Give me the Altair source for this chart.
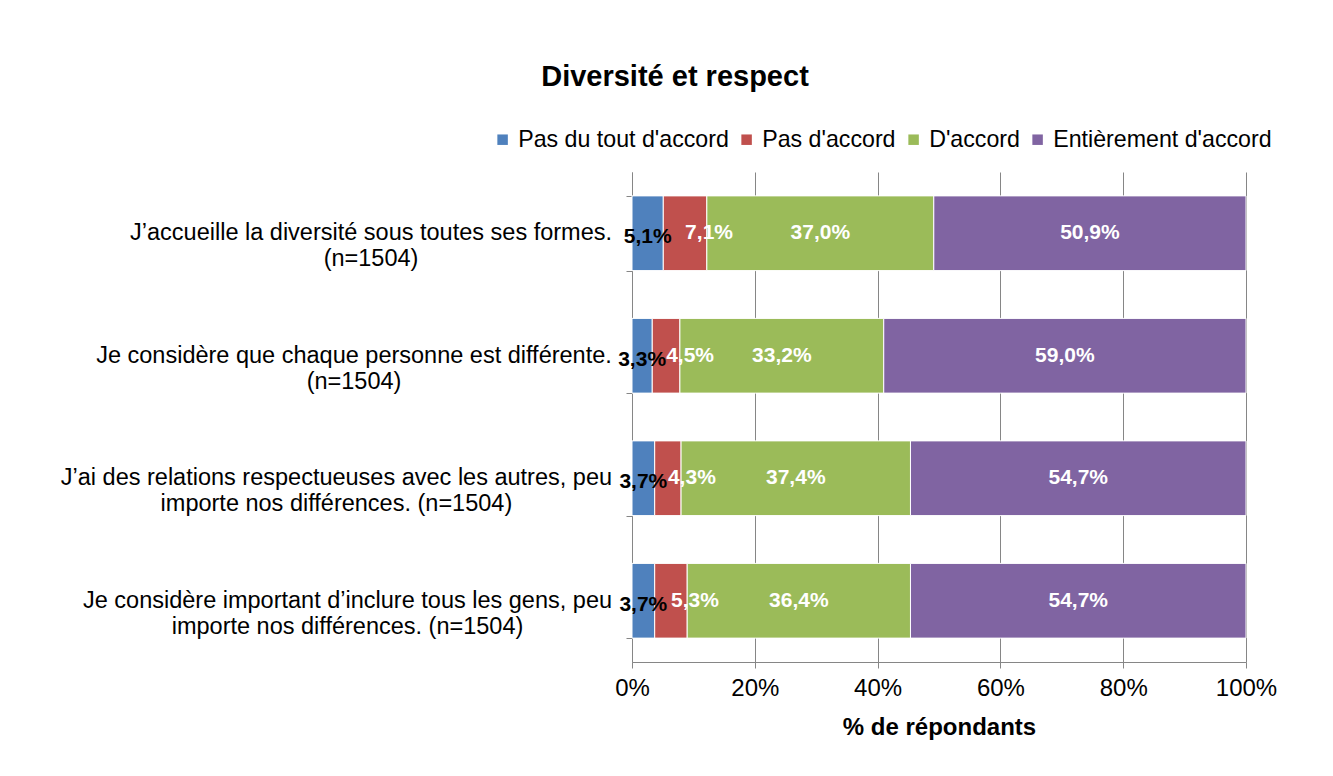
import altair as alt
import pandas as pd

questions_line1 = [
    "J’accueille la diversité sous toutes ses formes.",
    "Je considère que chaque personne est différente.",
    "J’ai des relations respectueuses avec les autres, peu",
    "Je considère important d’inclure tous les gens, peu",
]
questions_line2 = [
    "(n=1504)",
    "(n=1504)",
    "importe nos différences. (n=1504)",
    "importe nos différences. (n=1504)",
]
categories = ["Pas du tout d'accord", "Pas d'accord", "D'accord", "Entièrement d'accord"]
pas_du_tout = [5.1, 3.3, 3.7, 3.7]
pas_d_accord = [7.1, 4.5, 4.3, 5.3]
d_accord = [37.0, 33.2, 37.4, 36.4]
entierement = [50.9, 59.0, 54.7, 54.7]
colors = ["#4F81BD", "#C0504D", "#9BBB59", "#8064A2"]

FONT = "Liberation Sans"
GRAY = "#868686"
LABEL_SIZE = 23.5
LABEL_GAP = 20  # distance between the end of the first label line and the axis

# approximate Arial / Liberation Sans advance widths (per 1000 em), used only to
# centre each two-line category label on its first line, which ends flush
_W = {c: 556 for c in "abdeghnopqu0123456789éèàêô"}
_W.update({c: 500 for c in "cksvxyzJ"})
_W.update({"f": 278, "i": 222, "j": 222, "l": 222, "m": 833, "r": 333, "t": 278,
           "w": 722, " ": 278, ".": 278, ",": 278, "(": 333, ")": 333, "=": 584,
           "’": 222, "'": 191})


def _width_px(s):
    return sum(_W.get(ch, 600) for ch in s) * LABEL_SIZE / 1000


questions = [l1 + "\n" + l2 for l1, l2 in zip(questions_line1, questions_line2)]

series = [pas_du_tout, pas_d_accord, d_accord, entierement]
rows = []
for qi, q in enumerate(questions):
    for ci, cat in enumerate(categories):
        v = series[ci][qi]
        rows.append({
            "question": q,
            "categorie": cat,
            "order": ci,
            "value": v,
            "label": f"{v:.1f}".replace(".", ",") + "%",
        })
df = pd.DataFrame(rows)
qdf = pd.DataFrame({"question": questions, "qi": list(range(len(questions)))})

y_enc = alt.Y(
    "question:N",
    sort=questions,
    title=None,
    scale=alt.Scale(paddingInner=0.39, paddingOuter=0.195),
    axis=alt.Axis(
        labels=False,
        tickSize=6,
        tickBand="extent",
        domainColor=GRAY,
        tickColor=GRAY,
        grid=False,
    ),
)

x_axis = alt.Axis(
    format=".0%",
    values=[0, 0.2, 0.4, 0.6, 0.8, 1.0],
    grid=True,
    gridColor=GRAY,
    domainColor=GRAY,
    tickColor=GRAY,
    tickSize=6,
    labelFontSize=24,
    labelPadding=8,
    labelFlush=False,
    labelColor="black",
    labelFont=FONT,
    titleFontSize=24,
    titleFontWeight="bold",
    titleColor="black",
    titleFont=FONT,
    titlePadding=15,
)
x_scale = alt.Scale(domain=[0, 1])
X_TITLE = "% de répondants"

base = alt.Chart(df).transform_stack(
    stack="value",
    groupby=["question"],
    as_=["v0", "v1"],
    offset="normalize",
    sort=[alt.SortField("order")],
).transform_calculate(mid="(datum.v0 + datum.v1) / 2")

bars = base.mark_bar(stroke="white", strokeWidth=1).encode(
    y=y_enc,
    x=alt.X("v0:Q", scale=x_scale, axis=x_axis, title=X_TITLE),
    x2="v1:Q",
    color=alt.Color(
        "categorie:N",
        scale=alt.Scale(domain=categories, range=colors),
        legend=alt.Legend(
            orient="none",
            legendX=-141,
            legendY=-44,
            direction="horizontal",
            title=None,
            symbolType="square",
            symbolSize=110,
            symbolStrokeWidth=0,
            labelFontSize=23.2,
            labelFont=FONT,
            labelColor="black",
            labelOffset=4,
            columnPadding=6,
            labelLimit=0,
        ),
    ),
)


def text_layer(cond, color, dx=0, dy=0):
    return base.transform_filter(cond).mark_text(
        font=FONT, fontWeight="bold", fontSize=21, color=color,
        align="center", baseline="middle", dx=dx, dy=dy,
    ).encode(
        y=y_enc,
        x=alt.X("mid:Q", scale=x_scale, axis=x_axis, title=X_TITLE),
        text="label:N",
    )


t1 = text_layer("datum.order == 0", "black", dx=0, dy=4)
t2 = text_layer("datum.order == 1", "white", dx=24)
t3 = text_layer("datum.order >= 2", "white")

# category labels: two lines, centred on each other, first line ending near the axis
cat_labels = []
for qi, l1 in enumerate(questions_line1):
    cat_labels.append(
        alt.Chart(qdf).transform_filter(f"datum.qi == {qi}").mark_text(
            font=FONT, fontSize=LABEL_SIZE, lineHeight=26, lineBreak="\n",
            color="black", align="center", baseline="middle",
            dx=-(LABEL_GAP + _width_px(l1) / 2),
        ).encode(
            y=y_enc,
            x=alt.value(0),
            text="question:N",
        )
    )

chart = alt.layer(bars, t1, t2, t3, *cat_labels).properties(
    width=614,
    height=490,
    autosize=alt.AutoSizeParams(type="none"),
    padding={"left": 624, "top": 164, "right": 70, "bottom": 100},
    title=alt.TitleParams(
        "Diversité et respect",
        font=FONT,
        fontSize=29,
        fontWeight="bold",
        color="black",
        anchor="middle",
        dx=-264,
        offset=36,
    ),
).configure(font=FONT).configure_view(stroke=None)

chart.save("out.html", embed_options={"renderer": "svg", "actions": False})
